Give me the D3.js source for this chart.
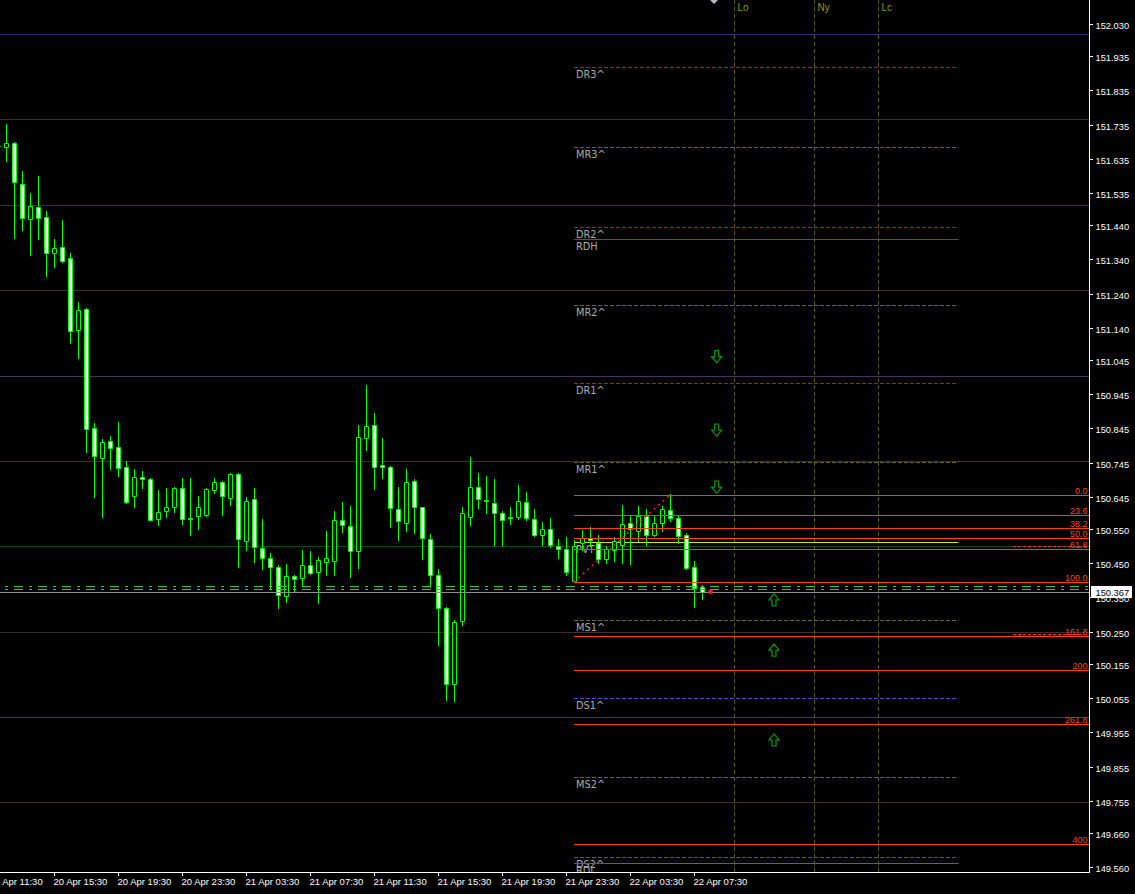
<!DOCTYPE html>
<html><head><meta charset="utf-8">
<script src="https://cdn.jsdelivr.net/npm/d3@7"></script>
<style>html,body{margin:0;padding:0;background:#000;overflow:hidden}</style>
</head><body>
<svg id="c" width="1135" height="894"></svg>
<script>
// ---------------- DATA ----------------
const firstCandle = "2024-04-20T12:00Z";   // 30-minute candles
const candleMinutes = 30;
const opens = [151.673,151.670,151.682,151.562,151.459,151.494,151.465,151.360,151.377,151.345,151.134,151.196,150.845,150.757,150.807,150.792,150.731,150.646,150.704,150.698,150.581,150.602,150.616,150.672,150.582,150.590,150.593,150.666,150.687,150.640,150.713,150.514,150.637,150.496,150.467,150.438,150.353,150.412,150.406,150.444,150.426,150.453,150.456,150.578,150.558,150.485,150.816,150.854,150.737,150.731,150.608,150.567,150.690,150.614,150.520,150.417,150.318,150.098,150.280,150.587,150.675,150.635,150.628,150.596,150.585,150.587,150.631,150.581,150.532,150.552,150.502,150.493,150.397,150.511,150.523,150.511,150.464,150.488,150.505,150.567,150.546,150.590,150.534,150.567,150.605,150.584,150.532,150.438,150.382];
const highs = [151.690,151.737,151.685,151.600,151.533,151.585,151.483,151.401,151.456,151.360,151.216,151.199,150.862,150.813,150.824,150.865,150.751,150.725,150.719,150.699,150.666,150.672,150.675,150.701,150.701,150.646,150.672,150.701,150.690,150.714,150.716,150.643,150.672,150.581,150.479,150.444,150.447,150.415,150.488,150.485,150.470,150.546,150.602,150.631,150.619,150.854,150.971,150.889,150.816,150.734,150.675,150.725,150.696,150.615,150.537,150.432,150.321,150.283,150.614,150.760,150.716,150.707,150.696,150.602,150.616,150.678,150.660,150.608,150.570,150.584,150.520,150.526,150.517,150.549,150.555,150.532,150.502,150.526,150.622,150.590,150.619,150.608,150.590,150.619,150.652,150.590,150.540,150.458,150.388];
const lows = [151.660,151.629,151.404,151.427,151.354,151.401,151.292,151.319,151.333,151.096,151.050,150.775,150.643,150.587,150.725,150.707,150.628,150.614,150.672,150.576,150.561,150.587,150.599,150.564,150.532,150.552,150.590,150.657,150.593,150.622,150.438,150.488,150.453,150.432,150.379,150.318,150.338,150.365,150.388,150.420,150.333,150.417,150.415,150.543,150.409,150.435,150.783,150.669,150.701,150.555,150.517,150.546,150.540,150.464,150.382,150.210,150.049,150.046,150.268,150.561,150.611,150.596,150.505,150.505,150.564,150.581,150.576,150.529,150.505,150.499,150.467,150.415,150.396,150.488,150.502,150.450,150.450,150.458,150.450,150.447,150.514,150.505,150.529,150.546,150.573,150.511,150.432,150.321,150.347];
const closes = [151.672,151.682,151.568,151.462,151.497,151.462,151.360,151.374,151.336,151.129,151.193,150.842,150.763,150.804,150.789,150.728,150.631,150.704,150.698,150.578,150.599,150.614,150.672,150.581,150.581,150.614,150.669,150.687,150.646,150.713,150.520,150.634,150.499,150.467,150.438,150.356,150.412,150.403,150.444,150.423,150.461,150.467,150.578,150.561,150.485,150.821,150.851,150.731,150.731,150.611,150.573,150.687,150.616,150.523,150.417,150.318,150.098,150.277,150.596,150.675,150.637,150.634,150.596,150.578,150.584,150.634,150.584,150.532,150.552,150.505,150.493,150.426,150.502,150.525,150.517,150.464,150.491,150.514,150.564,150.552,150.590,150.534,150.567,150.608,150.584,150.529,150.435,150.379,150.367];

const currentPrice = 150.367;
const priceTickLabels = ["152.030","151.935","151.835","151.735","151.635","151.535","151.440","151.340","151.240","151.140","151.045","150.945","150.845","150.745","150.645","150.550","150.450","150.350","150.250","150.155","150.055","149.955","149.855","149.755","149.660","149.560"];
const timeTickLabels = ["20 Apr 11:30","20 Apr 15:30","20 Apr 19:30","20 Apr 23:30","21 Apr 03:30","21 Apr 07:30","21 Apr 11:30","21 Apr 15:30","21 Apr 19:30","21 Apr 23:30","22 Apr 03:30","22 Apr 07:30"];

const roundLevels = [152.00,151.75,151.50,151.25,151.00,150.75,150.50,150.25,150.00,149.75];

const pivotNames  = ["DR3^","MR3^","DR2^","RDH","MR2^","DR1^","MR1^","PVT^","MS1^","DS1^","MS2^","DS2^","RDL"];
const pivotPrices = [151.902,151.669,151.434,151.400,151.206,150.977,150.748,150.512,150.283,150.055,149.823,149.589,149.572];
const pivotStart = "2024-04-22T00:00Z", pivotEnd = "2024-04-23T00:00Z";

const fibHigh = 150.651, fibLow = 150.395;
const fibHighTime = "2024-04-22T06:00Z", fibLowTime = "2024-04-22T00:00Z";
const fibRatios = [0, 23.6, 38.2, 50, 61.8, 100, 161.8, 200, 261.8, 400];
const fibLabels = ["0.0","23.6","38.2","50.0","61.8","100.0","161.8","200","261.8","400"];

const sessionNames = ["Lo","Ny","Lc"];
const sessionTimes = ["2024-04-22T10:00Z","2024-04-22T15:00Z","2024-04-22T19:00Z"];

const arrowDirs   = ["down","down","down","up","up","up"];
const arrowTimes  = ["2024-04-22T08:55Z","2024-04-22T08:55Z","2024-04-22T08:55Z","2024-04-22T12:30Z","2024-04-22T12:30Z","2024-04-22T12:30Z"];
const arrowPrices = [151.055,150.840,150.673,150.343,150.196,149.933];

const dashLevels = [150.385, 150.376];          // green dash-dot lines
const orderLevels = [150.500, 150.242];         // short red dashed lines at right
const markerTime = "2024-04-22T08:30Z";
const shiftMarkTime = "2024-04-22T08:45Z";

// ---------------- SCALES ----------------
const W = 1135, H = 894, plotR = 1089, plotB = 872;
const x = d3.scaleUtc()
  .domain([new Date("2024-04-20T12:30Z"), new Date("2024-04-22T08:00Z")])
  .range([6, 702]);
const y = d3.scaleLinear().domain([149.75, 152.00]).range([802.4, 34]);
const px = v => Math.round(v) + 0.5;
const T = s => new Date(s);
const candleTime = i => new Date(T(firstCandle).getTime() + i * candleMinutes * 60000);
const parseLabel = s => { const m = s.match(/(\d+) Apr (\d+):(\d+)/); return new Date(Date.UTC(2024,3,+m[1],+m[2],+m[3])); };

const svg = d3.select("#c");
svg.append("rect").attr("width", W).attr("height", H).attr("fill", "#000");
svg.append("defs").append("clipPath").attr("id","plot").append("rect")
  .attr("x",0).attr("y",0).attr("width",plotR).attr("height",plotB);
const g = svg.append("g").attr("clip-path","url(#plot)");

// round-number levels
g.selectAll(".rl").data(roundLevels).join("line")
  .attr("x1",0).attr("x2",plotR)
  .attr("y1",d=>px(y(d))).attr("y2",d=>px(y(d)))
  .attr("stroke", d => {
    const f = Math.round((d % 1) * 100);
    if (f === 0) return d === 152 ? "#2e2e78" : "#3a3a58";
    return f === 50 ? "#11480f" : "#3c2f24";
  }).attr("stroke-width",1);

// session vertical lines
sessionTimes.forEach((t,i) => {
  const xx = px(x(T(t)));
  g.append("line").attr("x1",xx).attr("x2",xx).attr("y1",0).attr("y2",plotB)
    .attr("stroke","#5c5c18").attr("stroke-dasharray","4,3");
  g.append("text").attr("x",xx+3).attr("y",10.5).text(sessionNames[i])
    .attr("fill","#94941e").attr("font-family","Liberation Sans, Arial, sans-serif").attr("font-size","10px");
});

// pivot levels (background)
const pivotStyle = n => {
  if (n === "RDH") return {c:"#e41414", d:null};
  if (n === "RDL") return {c:"#1c6cd4", d:null};
  if (n.startsWith("PVT")) return {c:"#e0e000", d:null};
  if (n.startsWith("DR")) return {c:"#c4122e", d:"4,2"};
  if (n.startsWith("DS")) return {c:"#5546d0", d:"4,2"};
  return {c:"#6a6a1e", d:"4,2"};
};
const px0 = px(x(T(pivotStart))) - 0.5, px1 = px(x(T(pivotEnd)));
pivotNames.forEach((n,i) => {
  const st = pivotStyle(n), yy = px(y(pivotPrices[i]));
  const l = g.append("line").attr("x1",px0).attr("x2",px1).attr("y1",yy).attr("y2",yy)
    .attr("stroke",st.c).attr("stroke-width",1);
  if (st.d) l.attr("stroke-dasharray",st.d);
  g.append("text").attr("x",px0+2).attr("y",yy+10).text(n)
    .attr("fill","#ababab").attr("font-family","DejaVu Sans, sans-serif").attr("font-size","9.8px");
});

// candles
const candles = opens.map((o,i) => ({t:candleTime(i), o, h:highs[i], l:lows[i], c:closes[i]}));
const cg = g.append("g");
candles.forEach(d => {
  const cx = px(x(d.t));
  cg.append("line").attr("x1",cx).attr("x2",cx)
    .attr("y1",Math.round(y(d.h))).attr("y2",Math.round(y(d.l))+1)
    .attr("stroke","#00ff00").attr("stroke-width",1);
  const yt = px(y(Math.max(d.o,d.c))), yb = px(y(Math.min(d.o,d.c)));
  cg.append("path").attr("d",`M${cx-2},${yt}H${cx+2}V${yb}H${cx-2}Z`)
    .attr("fill", d.c < d.o ? "#ffffff" : "#000000")
    .attr("stroke","#00ff00").attr("stroke-width",1);
});

// fibonacci
const fx0 = px(x(T(fibLowTime))) - 0.5;
fibRatios.forEach((r,i) => {
  const p = fibHigh - (fibHigh - fibLow) * r / 100, yy = px(y(p));
  g.append("line").attr("x1",fx0).attr("x2",plotR).attr("y1",yy).attr("y2",yy)
    .attr("stroke","#ff4000").attr("stroke-width",1);
  g.append("text").attr("x",1087.5).attr("y",yy-2).attr("text-anchor","end").text(fibLabels[i])
    .attr("fill","#f04a10").attr("font-family","Liberation Sans, Arial, sans-serif").attr("font-size","9px");
});
g.append("line")
  .attr("x1",x(T(fibLowTime))).attr("y1",y(fibLow))
  .attr("x2",x(T(fibHighTime))).attr("y2",y(fibHigh))
  .attr("stroke","#ff1a1a").attr("stroke-width",1.6).attr("stroke-dasharray","2,4");

// green dash-dot lines and bid line
dashLevels.forEach(p => {
  const yy = px(y(p));
  g.append("line").attr("x1",0).attr("x2",plotR).attr("y1",yy).attr("y2",yy)
    .attr("stroke","#32c832").attr("stroke-width",1)
    .attr("stroke-dasharray","3,6,9,6").attr("stroke-dashoffset",19);
});
g.append("line").attr("x1",0).attr("x2",plotR)
  .attr("y1",px(y(currentPrice))).attr("y2",px(y(currentPrice)))
  .attr("stroke","#8e8e8e").attr("stroke-width",1);

// short order lines at right edge
orderLevels.forEach(p => {
  const yy = px(y(p));
  g.append("line").attr("x1",1013).attr("x2",1086).attr("y1",yy).attr("y2",yy)
    .attr("stroke","#ff2a2a").attr("stroke-dasharray","3,2");
});

// arrows
arrowDirs.forEach((dir,i) => {
  const cx = x(T(arrowTimes[i])), cy = y(arrowPrices[i]);
  const s = dir === "down" ? 1 : -1;
  const path = `M${cx-2},${cy-6*s}H${cx+2}V${cy}H${cx+5}L${cx},${cy+6*s}L${cx-5},${cy}H${cx-2}Z`;
  g.append("path").attr("d",path).attr("fill","#000").attr("stroke","#0b8a0b").attr("stroke-width",1.3);
});

// current price marker dot
g.append("circle").attr("cx",x(T(markerTime))+0.5).attr("cy",y(currentPrice)).attr("r",2.3).attr("fill","#ff1a1a");

// chart shift marker
{ const sx = x(T(shiftMarkTime));
  g.append("path").attr("d",`M${sx-4},0L${sx+4},0L${sx},4Z`).attr("fill","#b8b8c8"); }

// ---------------- AXES ----------------
const axisFont = "Liberation Sans, Arial, sans-serif";
svg.append("line").attr("x1",plotR+0.5).attr("x2",plotR+0.5).attr("y1",0).attr("y2",plotB+1)
  .attr("stroke","#ffffff");
svg.append("line").attr("x1",0).attr("x2",plotR+1).attr("y1",plotB+0.5).attr("y2",plotB+0.5)
  .attr("stroke","#ffffff");

priceTickLabels.forEach(s => {
  const yy = px(y(+s));
  svg.append("line").attr("x1",plotR).attr("x2",plotR+4).attr("y1",yy).attr("y2",yy).attr("stroke","#fff");
  svg.append("text").attr("x",1095.5).attr("y",yy+4).text(s)
    .attr("fill","#ffffff").attr("font-family",axisFont).attr("font-size","9.3px");
});
timeTickLabels.forEach(s => {
  const xx = px(x(parseLabel(s)));
  svg.append("line").attr("x1",xx).attr("x2",xx).attr("y1",plotB).attr("y2",plotB+4).attr("stroke","#fff");
  svg.append("text").attr("x",xx-1).attr("y",884.5).text(s)
    .attr("fill","#ffffff").attr("font-family",axisFont).attr("font-size","9.5px");
});

// current price label box
{ const yy = y(currentPrice);
  svg.append("rect").attr("x",1091).attr("y",Math.round(yy)-6).attr("width",41).attr("height",12).attr("fill","#ffffff");
  svg.append("text").attr("x",1095.5).attr("y",Math.round(yy)+4).text(currentPrice.toFixed(3))
    .attr("fill","#000").attr("font-family",axisFont).attr("font-size","9.3px"); }
</script>
</body></html>
